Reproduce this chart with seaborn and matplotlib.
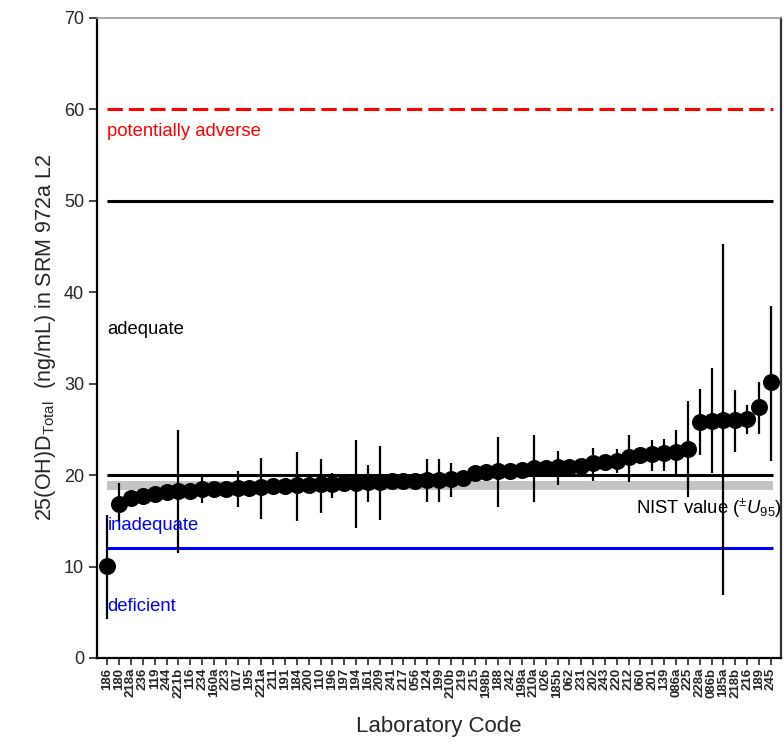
import numpy as np
import pandas as pd
import matplotlib
matplotlib.use("Agg")
import matplotlib.pyplot as plt
import seaborn as sns

# --- Data ---
labs = ["186", "180", "218a", "236", "119", "244", "221b", "116", "234", "160a",
        "223", "017", "195", "221a", "211", "191", "184", "200", "110", "196",
        "197", "194", "161", "209", "241", "217", "056", "124", "199", "210b",
        "219", "215", "198b", "188", "242", "198a", "210a", "026", "185b", "062",
        "231", "202", "243", "220", "212", "060", "201", "139", "086a", "225",
        "228a", "086b", "185a", "218b", "216", "189", "245"]

values = [10.1, 16.8, 17.5, 17.7, 17.9, 18.1, 18.3, 18.3, 18.5, 18.5,
          18.5, 18.6, 18.6, 18.7, 18.8, 18.8, 18.9, 18.9, 19.0, 19.0,
          19.1, 19.1, 19.2, 19.2, 19.3, 19.4, 19.4, 19.5, 19.5, 19.6,
          19.7, 20.2, 20.3, 20.4, 20.5, 20.6, 20.8, 20.8, 20.9, 20.9,
          21.0, 21.3, 21.4, 21.5, 22.0, 22.2, 22.3, 22.4, 22.5, 22.9,
          25.8, 25.9, 26.0, 26.0, 26.1, 27.4, 30.2]

nan = np.nan
err_low = [4.3, 14.9, nan, nan, nan, nan, 11.5, nan, 17.0, nan,
           nan, 16.5, nan, 15.2, nan, nan, 15.0, nan, 15.9, 17.5,
           nan, 14.2, 17.1, 15.1, nan, nan, nan, 17.1, 17.1, 17.6,
           nan, nan, nan, 16.5, nan, nan, 17.1, nan, 18.9, nan,
           nan, 19.3, nan, 20.2, 19.2, nan, 20.5, 20.5, 20.0, 17.6,
           22.2, 20.2, 6.9, 22.5, 24.5, 24.5, 21.5]
err_high = [15.6, 19.1, nan, nan, nan, nan, 24.9, nan, 19.8, nan,
            nan, 20.4, nan, 21.9, nan, nan, 22.5, nan, 21.8, 20.2,
            nan, 23.8, 21.1, 23.2, nan, nan, nan, 21.8, 21.8, 21.3,
            nan, nan, nan, 24.2, nan, nan, 24.4, nan, 22.6, nan,
            nan, 23.0, nan, 22.9, 24.4, nan, 23.8, 24.0, 24.9, 28.1,
            29.4, 31.7, 45.3, 29.3, 27.7, 30.2, 38.5]

nist_low, nist_high = 18.4, 19.4
thresholds = {"adverse": 60, "upper": 50, "adequate": 20, "deficient": 12}

df = pd.DataFrame({"lab": labs, "value": values, "lo": err_low, "hi": err_high})
df["pos"] = np.arange(len(df))

# --- Style ---
sns.set_theme(style="ticks")
plt.rcParams["font.family"] = ["Liberation Sans", "DejaVu Sans"]
plt.rcParams["mathtext.fontset"] = "custom"
plt.rcParams["mathtext.rm"] = "Liberation Sans"
plt.rcParams["mathtext.it"] = "Liberation Sans:italic"

fig = plt.figure(figsize=(7.84, 7.44), dpi=100)
ax = fig.add_axes([0.124, 0.1156, 0.872, 0.8604])

x0, x1 = df["pos"].iloc[0], df["pos"].iloc[-1] + 0.15

# reference band and threshold lines
ax.fill_between([x0, x1], nist_low, nist_high, color="#c4c4c4", lw=0, zorder=1)
ax.hlines(thresholds["adverse"], x0, x1, color="red", lw=2.2, ls=(0, (5, 2)), zorder=2)
ax.hlines(thresholds["upper"], x0, x1, color="black", lw=2.2, zorder=2)
ax.hlines(thresholds["adequate"], x0, x1, color="black", lw=2.2, zorder=2)
ax.hlines(thresholds["deficient"], x0, x1, color="blue", lw=2.2, zorder=2)

# error bars and points
eb = df.dropna(subset=["lo"])
ax.vlines(eb["pos"], eb["lo"], eb["hi"], color="black", lw=1.6, zorder=3)
sns.scatterplot(data=df, x="pos", y="value", ax=ax, color="black", s=150,
                edgecolor="black", linewidth=0, zorder=4, legend=False)

# annotations
fs = 13.3
ax.text(0, 57.6, "potentially adverse", color="red", fontsize=fs, va="center")
ax.text(0, 35.9, "adequate", color="black", fontsize=fs, va="center")
ax.text(0, 14.5, "inadequate", color="blue", fontsize=fs, va="center")
ax.text(0, 5.6, "deficient", color="blue", fontsize=fs, va="center")
ax.text(44.6, 16.4, r"NIST value ($^{\pm}$$U_{95}$)", color="black",
        fontsize=fs, va="center", clip_on=True)

# axes
ax.set_xlim(-0.85, len(df) - 1 + 0.85)
ax.set_ylim(0, 70)
ax.set_yticks(np.arange(0, 71, 10))
ax.set_xticks(df["pos"])
ax.set_xticklabels(df["lab"], rotation=90, fontsize=9.5, fontweight="bold")
ax.tick_params(axis="y", labelsize=13, length=6, width=1.2, direction="out")
ax.tick_params(axis="x", length=5, width=1.2, direction="out", pad=2)
ax.set_xlabel("Laboratory Code", fontsize=16, labelpad=13)
ax.set_ylabel(r"25(OH)D$_{\mathrm{Total}}$  (ng/mL) in SRM 972a L2", fontsize=15.5, labelpad=4)

for side in ["left", "bottom"]:
    ax.spines[side].set_linewidth(1.6)
    ax.spines[side].set_color("black")
ax.spines["top"].set_color("#999999")
ax.spines["top"].set_linewidth(1.2)
ax.spines["right"].set_color("#333333")
ax.spines["right"].set_linewidth(1.6)

fig.savefig("out.png", dpi=100)
plt.close(fig)
